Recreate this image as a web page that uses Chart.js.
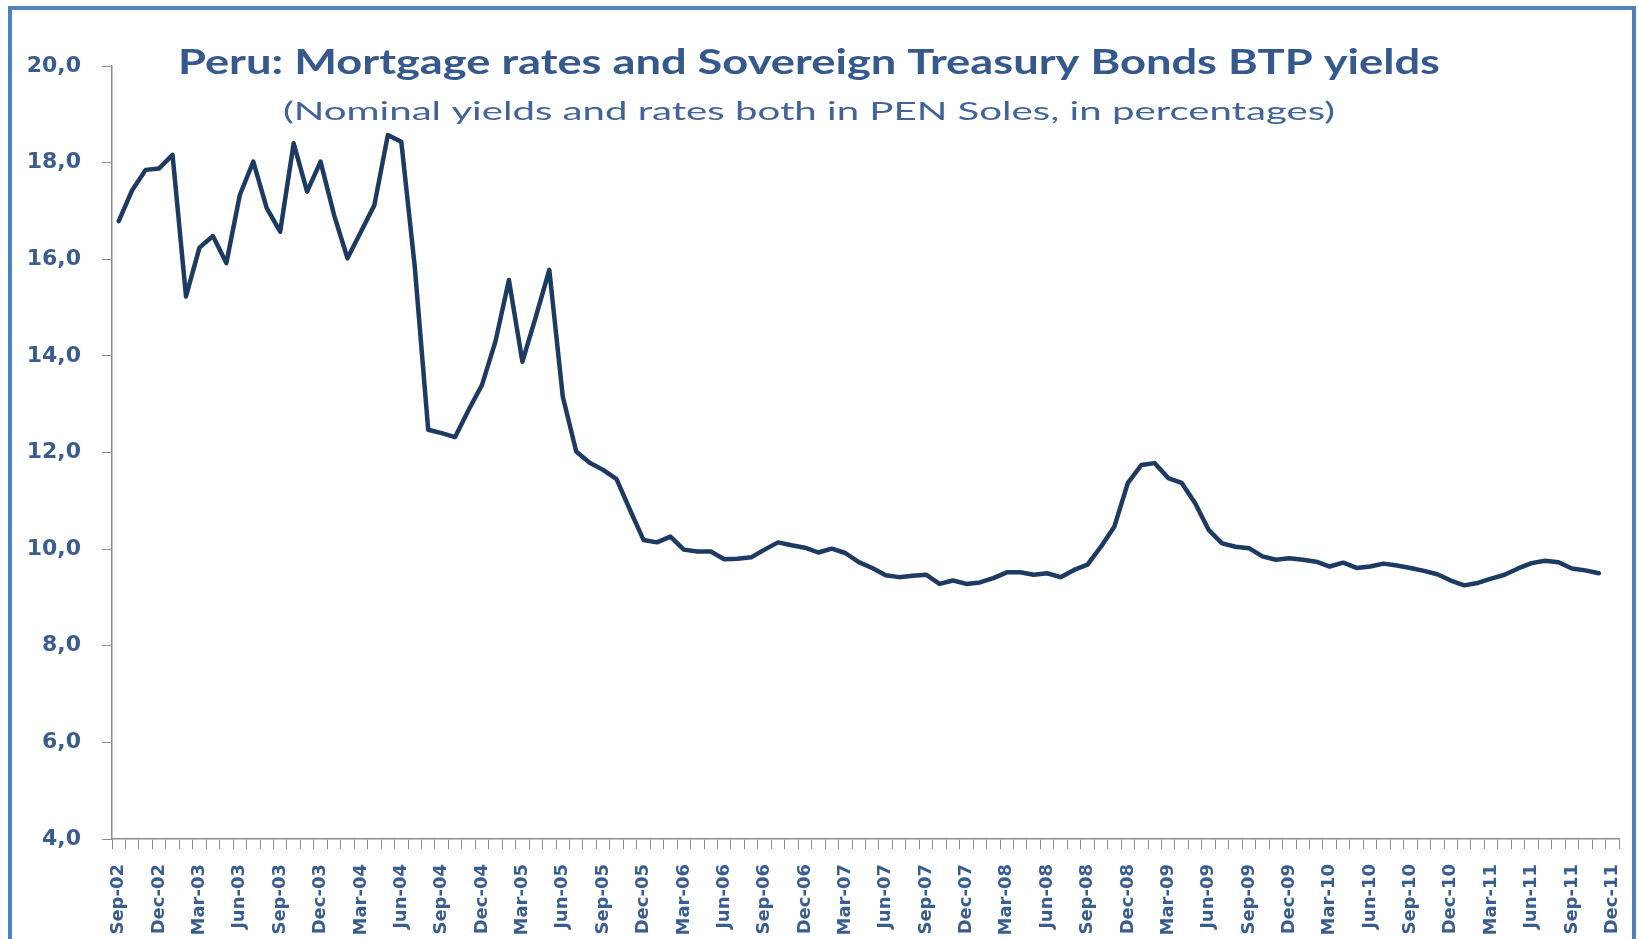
<!DOCTYPE html>
<html lang="en">
<head>
    <meta charset="UTF-8">
    <title>Peru: Mortgage rates and Sovereign Treasury Bonds BTP yields</title>
    <script src="https://cdn.jsdelivr.net/npm/chart.js"></script>
    <style>
        html, body { margin: 0; padding: 0; background: #ffffff; }
        canvas { display: block; }
    </style>
</head>
<body>
    <canvas id="peruRates" width="1638" height="939"></canvas>

    <script>
        // monthly categories, Sep-02 .. Dec-11
        const months = [
            'Sep-02', 'Oct-02', 'Nov-02', 'Dec-02',
            'Jan-03', 'Feb-03', 'Mar-03', 'Apr-03', 'May-03', 'Jun-03', 'Jul-03', 'Aug-03', 'Sep-03', 'Oct-03', 'Nov-03', 'Dec-03',
            'Jan-04', 'Feb-04', 'Mar-04', 'Apr-04', 'May-04', 'Jun-04', 'Jul-04', 'Aug-04', 'Sep-04', 'Oct-04', 'Nov-04', 'Dec-04',
            'Jan-05', 'Feb-05', 'Mar-05', 'Apr-05', 'May-05', 'Jun-05', 'Jul-05', 'Aug-05', 'Sep-05', 'Oct-05', 'Nov-05', 'Dec-05',
            'Jan-06', 'Feb-06', 'Mar-06', 'Apr-06', 'May-06', 'Jun-06', 'Jul-06', 'Aug-06', 'Sep-06', 'Oct-06', 'Nov-06', 'Dec-06',
            'Jan-07', 'Feb-07', 'Mar-07', 'Apr-07', 'May-07', 'Jun-07', 'Jul-07', 'Aug-07', 'Sep-07', 'Oct-07', 'Nov-07', 'Dec-07',
            'Jan-08', 'Feb-08', 'Mar-08', 'Apr-08', 'May-08', 'Jun-08', 'Jul-08', 'Aug-08', 'Sep-08', 'Oct-08', 'Nov-08', 'Dec-08',
            'Jan-09', 'Feb-09', 'Mar-09', 'Apr-09', 'May-09', 'Jun-09', 'Jul-09', 'Aug-09', 'Sep-09', 'Oct-09', 'Nov-09', 'Dec-09',
            'Jan-10', 'Feb-10', 'Mar-10', 'Apr-10', 'May-10', 'Jun-10', 'Jul-10', 'Aug-10', 'Sep-10', 'Oct-10', 'Nov-10', 'Dec-10',
            'Jan-11', 'Feb-11', 'Mar-11', 'Apr-11', 'May-11', 'Jun-11', 'Jul-11', 'Aug-11', 'Sep-11', 'Oct-11', 'Nov-11', 'Dec-11'
        ];

        // mortgage rate in soles, % (series stops at Nov-11)
        const mortgageRate = [
            16.79, 17.43, 17.85, 17.88,
            18.16, 15.23, 16.24, 16.48, 15.92, 17.33, 18.02, 17.06, 16.57, 18.40, 17.40, 18.02,
            16.92, 16.02, 16.57, 17.12, 18.57, 18.43, 15.85, 12.47, 12.40, 12.32, 12.88, 13.40,
            14.30, 15.57, 13.88, 14.81, 15.78, 13.16, 12.02, 11.79, 11.64, 11.45, 10.81, 10.19,
            10.14, 10.26, 9.99, 9.95, 9.95, 9.79, 9.80, 9.83, 9.99, 10.14, 10.08, 10.03,
            9.93, 10.01, 9.92, 9.73, 9.61, 9.46, 9.42, 9.45, 9.47, 9.28, 9.35, 9.28,
            9.31, 9.40, 9.52, 9.52, 9.47, 9.50, 9.42, 9.57, 9.68, 10.05, 10.47, 11.37,
            11.74, 11.78, 11.47, 11.37, 10.95, 10.40, 10.12, 10.05, 10.02, 9.85, 9.78, 9.81,
            9.78, 9.74, 9.64, 9.72, 9.61, 9.64, 9.70, 9.66, 9.61, 9.55, 9.48, 9.35,
            9.25, 9.30, 9.39, 9.47, 9.60, 9.71, 9.76, 9.73, 9.60, 9.56, 9.50
        ];

        const titleText = 'Peru: Mortgage rates and Sovereign Treasury Bonds BTP yields';
        const subtitleText = '(Nominal yields and rates both in PEN Soles, in percentages)';

        const axisGrey = '#8c8c8c';
        const labelBlue = '#3a5d8f';

        // text squeezed/stretched to a given width around a centre point
        function drawWideText(ctx, text, font, color, cx, baseline, width) {
            ctx.save();
            ctx.font = font;
            ctx.fillStyle = color;
            ctx.textAlign = 'left';
            ctx.textBaseline = 'alphabetic';
            const w = ctx.measureText(text).width;
            ctx.translate(cx - width / 2, baseline);
            ctx.scale(width / w, 1);
            ctx.fillText(text, 0, 0);
            ctx.restore();
        }

        const headerAndFrame = {
            id: 'headerAndFrame',
            beforeDraw(chart) {
                const ctx = chart.ctx;
                ctx.save();
                ctx.fillStyle = '#ffffff';
                ctx.fillRect(0, 0, chart.width, chart.height);
                ctx.restore();
            },
            afterDraw(chart) {
                const ctx = chart.ctx;
                drawWideText(ctx, titleText, 'bold 35px Lato', '#35598c', 809, 74, 1262);
                drawWideText(ctx, subtitleText, '25px Lato', '#41639a', 809, 120, 1052);

                // blue outline of the chart box
                ctx.save();
                ctx.strokeStyle = '#4f81bd';
                ctx.lineWidth = 4;
                ctx.strokeRect(10, 8, 1624, 980);
                ctx.restore();
            }
        };

        const ctx = document.getElementById('peruRates').getContext('2d');

        const chart = new Chart(ctx, {
            type: 'line',
            data: {
                labels: months,
                datasets: [{
                    label: 'Mortgage rate',
                    data: mortgageRate,
                    borderColor: '#1d3b62',
                    borderWidth: 4.5,
                    borderJoinStyle: 'round',
                    borderCapStyle: 'round',
                    pointRadius: 0,
                    tension: 0,
                    fill: false
                }]
            },
            options: {
                responsive: false,
                animation: false,
                layout: {
                    padding: { top: 66, right: 19, left: 0, bottom: 0 }
                },
                plugins: {
                    legend: { display: false },
                    tooltip: { enabled: false }
                },
                scales: {
                    x: {
                        type: 'category',
                        offset: true,
                        afterFit: (scale) => {
                            scale.height = 100;
                            scale.paddingLeft = 0;
                            scale.paddingRight = 0;
                        },
                        grid: {
                            offset: true,
                            drawOnChartArea: false,
                            tickLength: 10,
                            color: axisGrey
                        },
                        border: { color: axisGrey, width: 1.5 },
                        ticks: {
                            autoSkip: false,
                            minRotation: 90,
                            maxRotation: 90,
                            padding: 15,
                            color: labelBlue,
                            font: { family: 'DejaVu Sans', size: 18, weight: 'bold' },
                            callback: function(value, index) {
                                return index % 3 === 0 ? months[index] : '';
                            }
                        }
                    },
                    y: {
                        min: 4,
                        max: 20,
                        afterFit: (scale) => {
                            scale.width = 112;
                            scale.paddingTop = 0;
                            scale.paddingBottom = 0;
                        },
                        grid: {
                            drawOnChartArea: false,
                            tickLength: 10,
                            color: axisGrey
                        },
                        border: { color: axisGrey, width: 1.5 },
                        ticks: {
                            stepSize: 2,
                            padding: 21,
                            color: labelBlue,
                            font: { family: 'DejaVu Sans', size: 22, weight: 'bold' },
                            callback: (v) => v.toFixed(1).replace('.', ',')
                        }
                    }
                }
            },
            plugins: [headerAndFrame]
        });
    </script>
</body>
</html>
